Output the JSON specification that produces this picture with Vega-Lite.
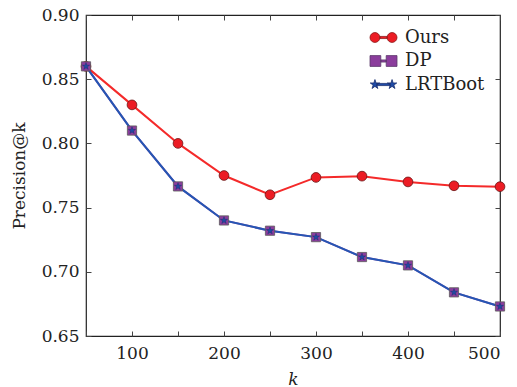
{
  "$schema": "https://vega.github.io/schema/vega-lite/v6.json",
  "width": 414,
  "height": 321,
  "autosize": "none",
  "padding": {"left": 86, "top": 15, "right": 17, "bottom": 51},
  "background": "white",
  "config": {
    "font": "DejaVu Serif",
    "view": {"stroke": "#222", "strokeWidth": 1.2},
    "axis": {"domain": false, "grid": false, "tickColor": "#444", "labelColor": "#222", "titleColor": "#222", "labelFont": "DejaVu Serif", "titleFont": "DejaVu Serif", "labelFontSize": 17, "titleFontSize": 17, "titleFontWeight": "normal"}
  },
  "data": {"values": [
    {"k": 50, "series": "Ours", "value": 0.86},
    {"k": 100, "series": "Ours", "value": 0.83},
    {"k": 150, "series": "Ours", "value": 0.80},
    {"k": 200, "series": "Ours", "value": 0.775},
    {"k": 250, "series": "Ours", "value": 0.760},
    {"k": 300, "series": "Ours", "value": 0.7735},
    {"k": 350, "series": "Ours", "value": 0.7745},
    {"k": 400, "series": "Ours", "value": 0.770},
    {"k": 450, "series": "Ours", "value": 0.767},
    {"k": 500, "series": "Ours", "value": 0.7663},
    {"k": 50, "series": "DP", "value": 0.86},
    {"k": 100, "series": "DP", "value": 0.81},
    {"k": 150, "series": "DP", "value": 0.7665},
    {"k": 200, "series": "DP", "value": 0.740},
    {"k": 250, "series": "DP", "value": 0.732},
    {"k": 300, "series": "DP", "value": 0.727},
    {"k": 350, "series": "DP", "value": 0.7115},
    {"k": 400, "series": "DP", "value": 0.705},
    {"k": 450, "series": "DP", "value": 0.684},
    {"k": 500, "series": "DP", "value": 0.673},
    {"k": 50, "series": "LRTBoot", "value": 0.86},
    {"k": 100, "series": "LRTBoot", "value": 0.81},
    {"k": 150, "series": "LRTBoot", "value": 0.7665},
    {"k": 200, "series": "LRTBoot", "value": 0.740},
    {"k": 250, "series": "LRTBoot", "value": 0.732},
    {"k": 300, "series": "LRTBoot", "value": 0.727},
    {"k": 350, "series": "LRTBoot", "value": 0.7115},
    {"k": 400, "series": "LRTBoot", "value": 0.705},
    {"k": 450, "series": "LRTBoot", "value": 0.684},
    {"k": 500, "series": "LRTBoot", "value": 0.673}
  ]},
  "resolve": {"axis": {"x": "independent", "y": "independent"}},
  "layer": [
    {
      "transform": [{"filter": "datum.series === 'DP'"}],
      "mark": {"type": "line", "color": "#9b4fb0", "strokeWidth": 2},
      "encoding": {
        "x": {"field": "k", "type": "quantitative", "scale": {"domain": [50, 500], "nice": false},
          "axis": {"orient": "bottom", "values": [100, 200, 300, 400, 500], "ticks": false, "labelPadding": 9, "title": "k", "titleFontStyle": "italic", "titlePadding": 10}},
        "y": {"field": "value", "type": "quantitative", "scale": {"domain": [0.65, 0.9], "nice": false, "zero": false},
          "axis": {"orient": "left", "values": [0.65, 0.7, 0.75, 0.8, 0.85, 0.9], "format": ".2f", "ticks": false, "labelPadding": 7, "title": "Precision@k", "titlePadding": 13}}
      }
    },
    {
      "transform": [{"filter": "datum.series === 'Ours'"}],
      "mark": {"type": "line", "color": "#f42a2a", "strokeWidth": 2},
      "encoding": {
        "x": {"field": "k", "type": "quantitative", "axis": {"orient": "bottom", "offset": -5, "values": [50, 100, 150, 200, 250, 300, 350, 400, 450, 500], "labels": false, "tickSize": 5, "title": null}},
        "y": {"field": "value", "type": "quantitative", "axis": {"orient": "left", "offset": -5, "values": [0.65, 0.7, 0.75, 0.8, 0.85, 0.9], "labels": false, "tickSize": 5, "title": null}}
      }
    },
    {
      "transform": [{"filter": "datum.series === 'LRTBoot'"}],
      "mark": {"type": "line", "color": "#2457b3", "strokeWidth": 2},
      "encoding": {
        "x": {"field": "k", "type": "quantitative", "axis": {"orient": "top", "offset": -5, "values": [50, 100, 150, 200, 250, 300, 350, 400, 450, 500], "labels": false, "tickSize": 5, "title": null}},
        "y": {"field": "value", "type": "quantitative", "axis": {"orient": "right", "offset": -5, "values": [0.65, 0.7, 0.75, 0.8, 0.85, 0.9], "labels": false, "tickSize": 5, "title": null}}
      }
    },
    {
      "transform": [{"filter": "datum.series === 'Ours'"}],
      "mark": {"type": "point", "shape": "circle", "filled": true, "fill": "#ec1c24", "stroke": "#6a1414", "strokeWidth": 0.8, "size": 95, "opacity": 1},
      "encoding": {
        "x": {"field": "k", "type": "quantitative", "axis": null},
        "y": {"field": "value", "type": "quantitative", "axis": null}
      }
    },
    {
      "transform": [{"filter": "datum.series === 'DP'"}],
      "mark": {"type": "point", "shape": "square", "filled": true, "fill": "#8b3d9c", "stroke": "#5a5a5a", "strokeWidth": 0.8, "size": 85, "opacity": 1},
      "encoding": {
        "x": {"field": "k", "type": "quantitative", "axis": null},
        "y": {"field": "value", "type": "quantitative", "axis": null}
      }
    },
    {
      "transform": [{"filter": "datum.series === 'LRTBoot'"}],
      "mark": {"type": "point", "shape": "M0,-1L0.2245,-0.309L0.951,-0.309L0.363,0.118L0.588,0.809L0,0.382L-0.588,0.809L-0.363,0.118L-0.951,-0.309L-0.2245,-0.309Z", "filled": true, "fill": "#1f4ba6", "stroke": "#1a3070", "strokeWidth": 0.5, "size": 55, "opacity": 1},
      "encoding": {
        "x": {"field": "k", "type": "quantitative", "axis": null},
        "y": {"field": "value", "type": "quantitative", "axis": null}
      }
    },
    {
      "mark": {"type": "point", "filled": true, "size": 0, "strokeWidth": 0.8},
      "encoding": {
        "x": {"field": "k", "type": "quantitative", "axis": null},
        "y": {"field": "value", "type": "quantitative", "axis": null},
        "shape": {"field": "series", "type": "nominal",
          "scale": {"domain": ["Ours", "DP", "LRTBoot"], "range": [
            "M-0.4,0A0.55,0.55 0 1 1 -1.5,0A0.55,0.55 0 1 1 -0.4,0Z M1.5,0A0.55,0.55 0 1 1 0.4,0A0.55,0.55 0 1 1 1.5,0Z M-0.4,-0.12H0.4V0.12H-0.4Z",
            "M-1.5,-0.6H-0.3V0.6H-1.5Z M0.3,-0.6H1.5V0.6H0.3Z M-0.3,-0.12H0.3V0.12H-0.3Z",
            "M-0.95,-0.55L-0.827,-0.17L-0.427,-0.17L-0.75,0.065L-0.627,0.445L-0.95,0.21L-1.273,0.445L-1.15,0.065L-1.473,-0.17L-1.073,-0.17Z M0.95,-0.55L1.073,-0.17L1.473,-0.17L1.15,0.065L1.273,0.445L0.95,0.21L0.627,0.445L0.75,0.065L0.427,-0.17L0.827,-0.17Z M-0.75,-0.12H0.75V0.12H-0.75Z"
          ]},
          "legend": {"title": null, "orient": "none", "legendX": 288, "legendY": 13, "padding": 0, "symbolSize": 324, "symbolOpacity": 1, "symbolStrokeWidth": 0.8, "labelFont": "DejaVu Serif", "labelFontSize": 18, "labelColor": "#222", "labelOffset": 12, "rowPadding": 4.5}},
        "fill": {"field": "series", "type": "nominal", "scale": {"domain": ["Ours", "DP", "LRTBoot"], "range": ["#ec1c24", "#8b3d9c", "#1f4ba6"]}},
        "stroke": {"field": "series", "type": "nominal", "scale": {"domain": ["Ours", "DP", "LRTBoot"], "range": ["#8a1a1a", "#5a3a6a", "#1a3070"]}}
      }
    }
  ]
}
